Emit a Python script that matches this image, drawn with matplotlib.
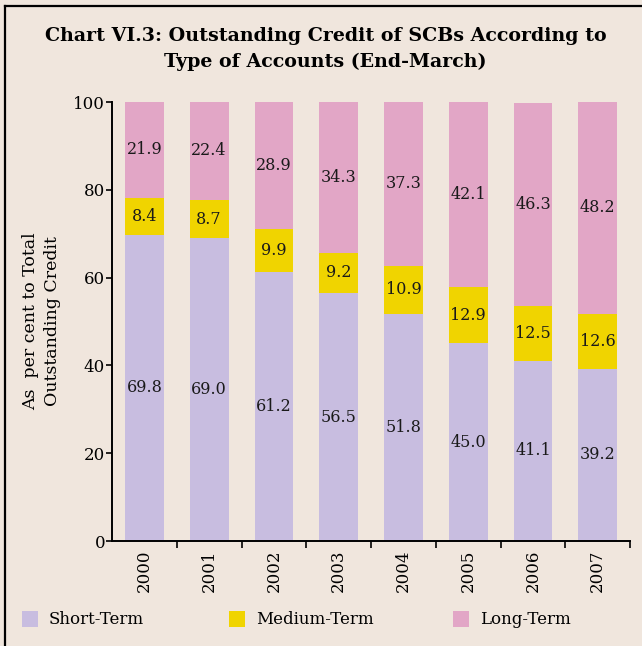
import matplotlib
matplotlib.use("Agg")
import matplotlib.pyplot as plt
from matplotlib.patches import Rectangle
import numpy as np

years = ["2000", "2001", "2002", "2003", "2004", "2005", "2006", "2007"]
short_term = [69.8, 69.0, 61.2, 56.5, 51.8, 45.0, 41.1, 39.2]
medium_term = [8.4, 8.7, 9.9, 9.2, 10.9, 12.9, 12.5, 12.6]
long_term = [21.9, 22.4, 28.9, 34.3, 37.3, 42.1, 46.3, 48.2]
series_names = ["Short-Term", "Medium-Term", "Long-Term"]

bg = "#f0e6dd"
colors = ["#c8bde0", "#f0d400", "#e2a6c6"]
serif = ["DejaVu Serif"]

fig = plt.figure(figsize=(6.42, 6.46), dpi=100, facecolor=bg)
ax = fig.add_axes([0.1745, 0.1625, 0.807, 0.6795], facecolor=bg)

x = np.arange(len(years))
w = 0.6
bottom = np.zeros(len(years))
for vals, c in zip([short_term, medium_term, long_term], colors):
    vals = np.array(vals)
    ax.bar(x, vals, w, bottom=bottom, color=c, edgecolor="none", zorder=2)
    for xi, b, v in zip(x, bottom, vals):
        ax.text(xi, b + v / 2, f"{v:.1f}", ha="center", va="center",
                fontsize=11.5, family=serif, color="#1a1a1a", zorder=3)
    bottom = bottom + vals

ax.set_xlim(-0.5, 7.5)
ax.set_ylim(0, 100)
ax.set_yticks([0, 20, 40, 60, 80, 100])
ax.tick_params(axis="y", direction="out", length=4, width=1.2, labelsize=12, pad=1)
for lbl in ax.get_yticklabels():
    lbl.set_family(serif)
ax.set_xticks(x)
ax.set_xticklabels(years, rotation=90, fontsize=12, family=serif)
ax.tick_params(axis="x", length=0, pad=6)
ax.set_xticks(list(x[:-1] + 0.5) + [7.5], minor=True)
ax.tick_params(axis="x", which="minor", direction="out", length=5, width=1.2)
for s in ["top", "right"]:
    ax.spines[s].set_visible(False)
for s in ["left", "bottom"]:
    ax.spines[s].set_linewidth(1.4)
ax.set_ylabel("As  per cent to Total\nOutstanding Credit", fontsize=12.5,
              family=serif, labelpad=9, linespacing=1.35)

fig.text(0.507, 0.924, "Chart VI.3: Outstanding Credit of SCBs According to\nType of Accounts (End-March)",
         ha="center", va="center", fontsize=13.7, fontweight="bold", family=serif,
         linespacing=1.5)

# legend
leg_x = [0.034, 0.357, 0.705]
for lx, c, name in zip(leg_x, colors, series_names):
    fig.patches.append(Rectangle((lx, 0.029), 0.025, 0.025, transform=fig.transFigure,
                                 facecolor=c, edgecolor="none"))
    fig.text(lx + 0.042, 0.041, name, ha="left", va="center", fontsize=12, family=serif)

# frame on top and left
fig.add_artist(plt.Line2D([0.008, 0.008], [0, 0.991], transform=fig.transFigure, color="black", lw=1.6))
fig.add_artist(plt.Line2D([0.008, 1.0], [0.991, 0.991], transform=fig.transFigure, color="black", lw=1.6))

fig.savefig("out.png", dpi=100, facecolor=bg)
